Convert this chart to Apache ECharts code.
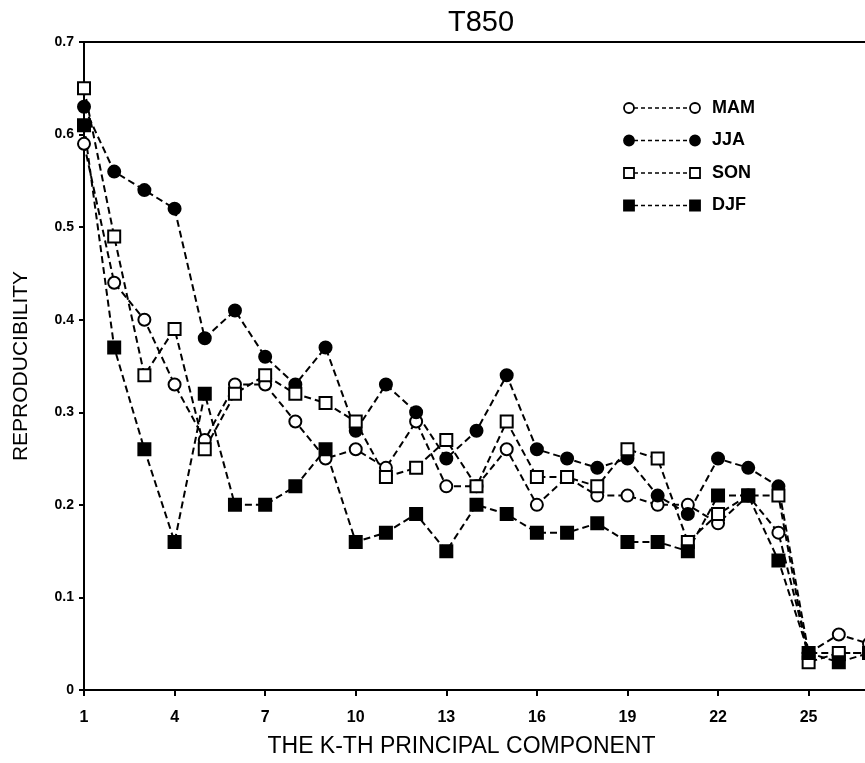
<!DOCTYPE html>
<html>
<head>
<meta charset="utf-8">
<script src="https://cdn.jsdelivr.net/npm/echarts@6/dist/echarts.min.js"></script>
<style>
	html, body { margin: 0; padding: 0; background: #fff; }
	#chart { width: 865px; height: 763px; }
</style>
</head>
<body>
<div id="chart"></div>
<script>
// k-th principal component
var components = ['1','2','3','4','5','6','7','8','9','10','11','12','13','14','15','16','17','18','19','20','21','22','23','24','25','26','27'];
var yTicks = [0, 0.1, 0.2, 0.3, 0.4, 0.5, 0.6, 0.7];

var mam = [0.59,0.44,0.40,0.33,0.27,0.33,0.33,0.29,0.25,0.26,0.24,0.29,0.22,0.22,0.26,0.20,0.23,0.21,0.21,0.20,0.20,0.18,0.21,0.17,0.04,0.06,0.05];
var jja = [0.63,0.56,0.54,0.52,0.38,0.41,0.36,0.33,0.37,0.28,0.33,0.30,0.25,0.28,0.34,0.26,0.25,0.24,0.25,0.21,0.19,0.25,0.24,0.22,0.04,0.04,0.04];
var son = [0.65,0.49,0.34,0.39,0.26,0.32,0.34,0.32,0.31,0.29,0.23,0.24,0.27,0.22,0.29,0.23,0.23,0.22,0.26,0.25,0.16,0.19,0.21,0.21,0.03,0.04,0.04];
var djf = [0.61,0.37,0.26,0.16,0.32,0.20,0.20,0.22,0.26,0.16,0.17,0.19,0.15,0.20,0.19,0.17,0.17,0.18,0.16,0.16,0.15,0.21,0.21,0.14,0.04,0.03,0.04];

var seasons = [
	{name: 'MAM', data: mam, symbol: 'circle', fill: '#fff'},
	{name: 'JJA', data: jja, symbol: 'circle', fill: '#000'},
	{name: 'SON', data: son, symbol: 'rect', fill: '#fff'},
	{name: 'DJF', data: djf, symbol: 'rect', fill: '#000'}
];

var font = '"Liberation Sans", Arial, Helvetica, sans-serif';

var chart = {
	init: function() {
		var myChart = echarts.init(document.getElementById('chart'));
		myChart.setOption(this.getOption());
	},
	makeSeries: function(s) {
		return {
			name: s.name,
			type: 'line',
			data: s.data,
			symbol: s.symbol,
			symbolSize: 12,
			showAllSymbol: true,
			clip: true,
			lineStyle: {color: '#000', width: 2, type: [7, 4]},
			itemStyle: {color: s.fill, borderColor: '#000', borderWidth: 2},
			emphasis: {disabled: true},
			animation: false
		};
	},
	// legend drawn as "symbol - - - - symbol  NAME" rows
	makeLegend: function() {
		var els = [];
		seasons.forEach(function(s, i) {
			var y = 108 + i * 32.5;
			var style = {fill: s.fill, stroke: '#000', lineWidth: 1.8};
			els.push({type: 'line', shape: {x1: 634, y1: y, x2: 690, y2: y},
				style: {stroke: '#000', lineWidth: 1.5, lineDash: [4, 3]}});
			[629, 695].forEach(function(x) {
				if (s.symbol === 'circle') {
					els.push({type: 'circle', shape: {cx: x, cy: y, r: 5}, style: style});
				} else {
					els.push({type: 'rect', shape: {x: x - 5, y: y - 5, width: 10, height: 10}, style: style});
				}
			});
			els.push({type: 'text', x: 712, y: y,
				style: {text: s.name, font: 'bold 18px ' + font, fill: '#000', verticalAlign: 'middle'}});
		});
		return els;
	},
	getOption: function() {
		return {
			backgroundColor: '#fff',
			animation: false,
			title: {
				text: 'T850',
				left: 443,
				top: 3,
				textStyle: {fontFamily: font, fontSize: 29, fontWeight: 'normal', color: '#000'}
			},
			grid: {left: 84, top: 42, width: 785, height: 648, containLabel: false, outerBoundsMode: 'none'},
			xAxis: [{
				type: 'category',
				data: components,
				boundaryGap: false,
				name: 'THE K-TH PRINCIPAL COMPONENT',
				nameLocation: 'middle',
				nameGap: 45,
				nameTextStyle: {fontFamily: font, fontSize: 23, color: '#000', padding: [0, 30, 0, 0]},
				axisLine: {lineStyle: {color: '#000', width: 2}},
				axisTick: {show: true, inside: false, interval: 2, length: 6, lineStyle: {color: '#000', width: 2}},
				axisLabel: {interval: 2, margin: 20, fontFamily: font, fontSize: 16, fontWeight: 'bold', color: '#000'},
				splitLine: {show: false}
			}, {
				type: 'category',
				data: components,
				boundaryGap: false,
				position: 'top',
				axisLine: {lineStyle: {color: '#000', width: 2}},
				axisTick: {show: false},
				axisLabel: {show: false},
				splitLine: {show: false}
			}],
			yAxis: {
				type: 'value',
				min: yTicks[0],
				max: yTicks[yTicks.length - 1],
				interval: 0.1,
				name: 'REPRODUCIBILITY',
				nameLocation: 'middle',
				nameGap: 52,
				nameTextStyle: {fontFamily: font, fontSize: 21, color: '#000'},
				axisLine: {show: true, lineStyle: {color: '#000', width: 2}},
				axisTick: {show: true, inside: false, length: 5, lineStyle: {color: '#000', width: 2}},
				axisLabel: {
					margin: 10, fontFamily: font, fontSize: 14, fontWeight: 'bold', color: '#000',
					formatter: function(v) { return String(Math.round(v * 10) / 10); }
				},
				splitLine: {show: false}
			},
			graphic: this.makeLegend(),
			series: seasons.map(this.makeSeries)
		};
	}
};

chart.init();
</script>
</body>
</html>
